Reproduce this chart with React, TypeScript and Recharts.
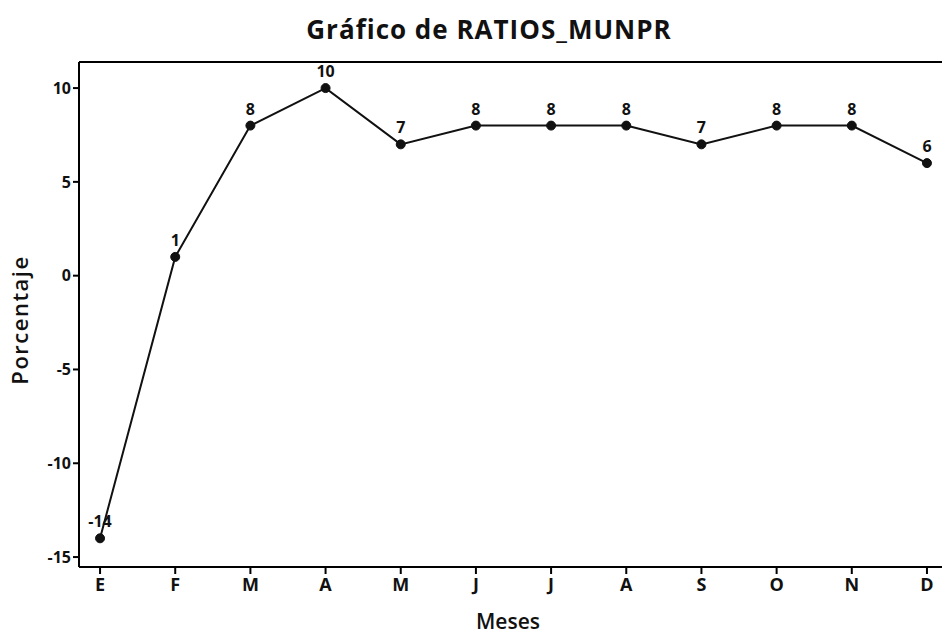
import { CartesianGrid, Label, LabelList, Line, LineChart, ReferenceLine, XAxis, YAxis } from "recharts";

const months = ["E", "F", "M", "A", "M", "J", "J", "A", "S", "O", "N", "D"];
const ratios = [-14, 1, 8, 10, 7, 8, 8, 8, 7, 8, 8, 6];
const yTicks = [-15, -10, -5, 0, 5, 10];

const data = months.map((m, i) => ({ idx: i, mes: m, value: ratios[i] }));

const font = "'Open Sans', 'Noto Sans', sans-serif";
const Y_MIN = -15.53;
const Y_MAX = 11.39;

export default function App() {
  return (
    <div style={{ position: "absolute", left: 0, top: 0, width: 942, height: 636, background: "#fff", fontFamily: font }}>
      <div
        style={{
          position: "absolute",
          top: 11,
          left: 0,
          width: 942,
          textAlign: "center",
          fontSize: 26,
          fontWeight: 700,
          letterSpacing: 1,
          color: "#111",
          paddingLeft: 36,
          boxSizing: "border-box",
        }}
      >
        Gráfico de RATIOS_MUNPR
      </div>
      <LineChart width={942} height={636} data={data} margin={{ top: 62, right: 0, bottom: 0, left: 0 }}>
        <CartesianGrid stroke="none" />
        <XAxis
          type="number"
          dataKey="idx"
          domain={[-0.28, 11.2]}
          ticks={months.map((_, i) => i)}
          tickFormatter={(i: number) => months[i]}
          interval={0}
          height={69}
          stroke="#000"
          strokeWidth={2}
          tickSize={7}
          tickMargin={4}
          tick={{ fill: "#111", fontSize: 18, fontWeight: 700, fontFamily: font }}
        >
          <Label
            content={() => (
              <text x={508} y={629} textAnchor="middle" fontSize={21} fontWeight={600} fill="#111" fontFamily={font}>
                Meses
              </text>
            )}
          />
        </XAxis>
        <YAxis
          type="number"
          domain={[Y_MIN, Y_MAX]}
          ticks={yTicks}
          allowDataOverflow
          width={79}
          stroke="#000"
          strokeWidth={2}
          tickSize={6}
          tick={{ fill: "#111", fontSize: 16, fontWeight: 700, fontFamily: font }}
        >
          <Label
            content={() => (
              <text
                x={22}
                y={320}
                transform="rotate(-90 22 320)"
                textAnchor="middle"
                dominantBaseline="middle"
                fontSize={22}
                fontWeight={600}
                letterSpacing={1.5}
                fill="#111"
                fontFamily={font}
              >
                Porcentaje
              </text>
            )}
          />
        </YAxis>
        <ReferenceLine y={Y_MAX} stroke="#000" strokeWidth={2} ifOverflow="visible" />
        <Line
          type="linear"
          dataKey="value"
          stroke="#111"
          strokeWidth={2}
          dot={{ r: 4.5, fill: "#111", stroke: "#111", strokeWidth: 1 }}
          isAnimationActive={false}
        >
          <LabelList dataKey="value" position="top" offset={11} fill="#111" fontSize={16} fontWeight={700} fontFamily={font} />
        </Line>
      </LineChart>
    </div>
  );
}
